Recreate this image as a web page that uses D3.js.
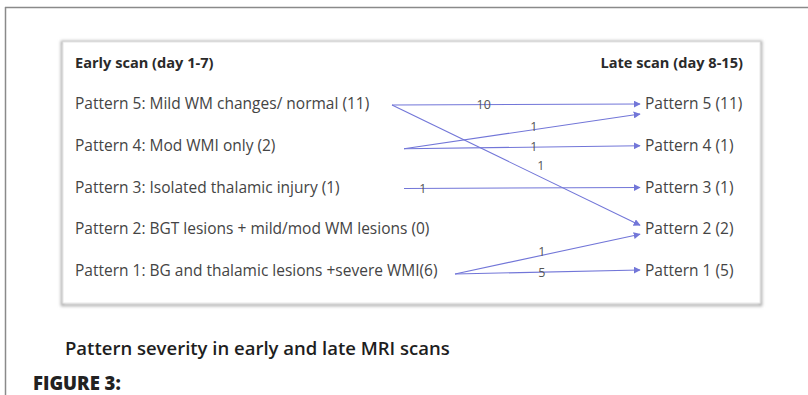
<!DOCTYPE html>
<html><head><meta charset="utf-8">
<script src="https://cdn.jsdelivr.net/npm/d3@7"></script>
<style>
html,body{margin:0;padding:0;background:#fff;}
svg{display:block;}
</style></head>
<body>
<svg id="c" width="808" height="395"></svg>
<script>
// ---------- data ----------
const earlyTitle = "Early scan (day 1-7)";
const lateTitle = "Late scan (day 8-15)";
const patterns = [5, 4, 3, 2, 1];
const earlyLabels = [
  "Pattern 5: Mild WM changes/ normal (11)",
  "Pattern 4: Mod WMI only (2)",
  "Pattern 3: Isolated thalamic injury (1)",
  "Pattern 2: BGT lesions + mild/mod WM lesions (0)",
  "Pattern 1: BG and thalamic lesions +severe WMI(6)"
];
const lateLabels = ["Pattern 5 (11)", "Pattern 4 (1)", "Pattern 3 (1)", "Pattern 2 (2)", "Pattern 1 (5)"];
const flowFrom = [5, 5, 4, 4, 3, 1, 1];
const flowTo   = [5, 2, 5, 4, 3, 2, 1];
const flowValue = [10, 1, 1, 1, 1, 1, 5];
const caption = "Pattern severity in early and late MRI scans";
const figLabel = "FIGURE 3:";

// ---------- layout (styling only) ----------
const startX = {5: 392, 4: 404, 3: 404, 2: 404, 1: 455};
const endDy  = [0, -4, 10, 0, 0, 5, -1];
const startDy = [1, 1, 3, 3, 1, 3, 3];
const labelT  = [0.37, 0.6, 0.55, 0.55, 0.08, 0.47, 0.47];
const labelDy = [0, -12, -3, -1, 0, -4, 0];

const svg = d3.select("#c");
const col = "#7276d8";

svg.append("line").attr("x1", 5).attr("x2", 808).attr("y1", 7.5).attr("y2", 7.5)
  .attr("stroke", "#8a8a8a").attr("stroke-width", 1.5);
svg.append("line").attr("x1", 5.5).attr("x2", 5.5).attr("y1", 7).attr("y2", 395)
  .attr("stroke", "#8a8a8a").attr("stroke-width", 1.5);

const defs = svg.append("defs");
const f = defs.append("filter").attr("id", "blur").attr("x", "-5%").attr("y", "-5%").attr("width", "110%").attr("height", "110%");
f.append("feGaussianBlur").attr("stdDeviation", 1.6);
const marker = defs.append("marker").attr("id", "arr").attr("viewBox", "0 0 10 10")
  .attr("refX", 9).attr("refY", 5).attr("markerWidth", 7).attr("markerHeight", 7)
  .attr("markerUnits", "userSpaceOnUse").attr("orient", "auto");
marker.append("path").attr("d", "M0,0L10,5L0,10Z").attr("fill", col);

svg.append("rect").attr("x", 62).attr("y", 42).attr("width", 699).attr("height", 263)
  .attr("fill", "none").attr("stroke", "#a9a9a9").attr("stroke-width", 2.5).attr("filter", "url(#blur)");
svg.append("rect").attr("x", 63).attr("y", 42).attr("width", 697).attr("height", 261)
  .attr("fill", "#fff").attr("stroke", "#e6e6e6").attr("stroke-width", 1);

const y = d3.scalePoint().domain(patterns).range([104, 271]);
const xLeft = 75, xEnd = 640, xRightText = 645;

const font = "'Open Sans', sans-serif";

svg.append("text").attr("x", xLeft).attr("y", 68).text(earlyTitle)
  .attr("font-family", font).attr("font-size", 14.6).attr("font-weight", 700).attr("fill", "#2a2a2a");
svg.append("text").attr("x", 743).attr("y", 68).attr("text-anchor", "end").text(lateTitle)
  .attr("font-family", font).attr("font-size", 14.6).attr("font-weight", 700).attr("fill", "#2a2a2a");

svg.selectAll("text.el").data(patterns).join("text").attr("class", "el")
  .attr("x", xLeft).attr("y", d => y(d) + 5)
  .text((d, i) => earlyLabels[i])
  .attr("font-family", font).attr("font-size", 15.5).attr("fill", "#444");

svg.selectAll("text.lr").data(patterns).join("text").attr("class", "lr")
  .attr("x", xRightText).attr("y", d => y(d) + 5)
  .text((d, i) => lateLabels[i])
  .attr("font-family", font).attr("font-size", 15.5).attr("fill", "#444");

const flows = flowFrom.map((s, i) => {
  const x1 = startX[s], y1 = y(s) + startDy[i];
  const x2 = xEnd, y2 = y(flowTo[i]) + endDy[i];
  return {x1, y1, x2, y2, v: flowValue[i], t: labelT[i], dy: labelDy[i]};
});
svg.selectAll("line.f").data(flows).join("line").attr("class", "f")
  .attr("x1", d => d.x1).attr("y1", d => d.y1).attr("x2", d => d.x2).attr("y2", d => d.y2)
  .attr("stroke", col).attr("stroke-width", 1.1).attr("marker-end", "url(#arr)");
svg.selectAll("text.fl").data(flows).join("text").attr("class", "fl")
  .attr("x", d => d.x1 + (d.x2 - d.x1) * d.t)
  .attr("y", d => d.y1 + (d.y2 - d.y1) * d.t + d.dy + 4.5)
  .attr("text-anchor", "middle").text(d => d.v)
  .attr("font-family", font).attr("font-size", 12.5).attr("fill", "#555");

svg.append("text").attr("x", 65).attr("y", 355).text(caption)
  .attr("font-family", font).attr("font-size", 18.5).attr("font-weight", 600).attr("fill", "#1e1e1e");
svg.append("text").attr("x", 33).attr("y", 390).text(figLabel)
  .attr("font-family", font).attr("font-size", 18.5).attr("font-weight", 800).attr("fill", "#222");
</script>
</body></html>
